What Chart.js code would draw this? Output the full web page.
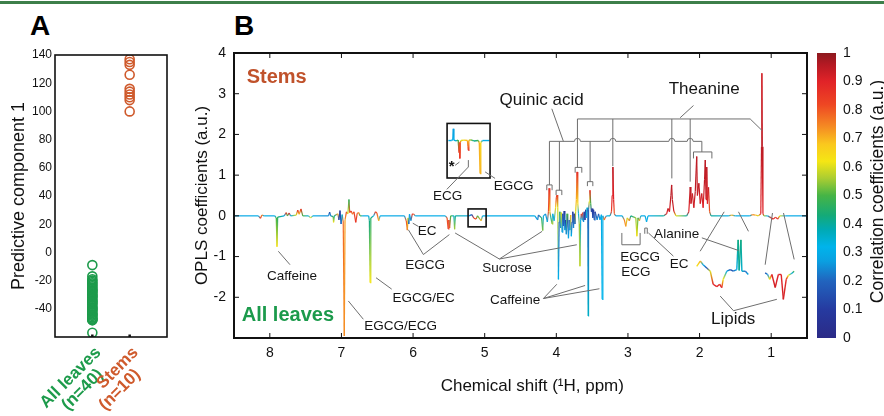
<!DOCTYPE html>
<html>
<head>
<meta charset="utf-8">
<script src="https://cdn.jsdelivr.net/npm/chart.js@4.4.1/dist/chart.umd.min.js"></script>
<style>
body { margin: 0; background: #fff; width: 884px; height: 416px; overflow: hidden; position: relative; }
.rule { position: absolute; left: 0; top: 1px; width: 884px; height: 3px; background: #3d7f4a; }
.tag { position: absolute; font: bold 28px/28px "Liberation Sans", Arial, sans-serif; color: #000; }
canvas { position: absolute; top: 0; }
</style>
</head>
<body>
<div class="rule"></div>
<div class="tag" style="left:30px;top:12px">A</div>
<div class="tag" style="left:234px;top:12px">B</div>
<canvas id="chartA" width="180" height="416" style="left:0"></canvas>
<canvas id="chartB" width="640" height="416" style="left:180px"></canvas>
<canvas id="chartC" width="76" height="416" style="left:808px"></canvas>
<script>
// ---- panel A: scores
var groupLabels = [['All leaves', '(n=40)   '], ['Stems', '(n=10)   ']];
var leavesScores = [-9, -17, -19, -20, -21, -22, -23, -24, -25, -26, -27, -27, -28, -29, -30, -31, -31, -32, -33, -34,
                    -35, -35, -36, -37, -38, -39, -40, -40, -41, -42, -43, -44, -44, -45, -46, -47, -47, -48, -48, -57];
var stemsScores = [137, 135, 133, 126, 116, 114, 112, 110, 108, 100];

// ---- panel B: OPLS loadings (ppm, coefficient, correlation)
var shiftPpm = [
  8.50,8.16,8.13,8.11,8.08,7.93,7.91,7.90,7.89,7.80,
  7.77,7.755,7.73,7.71,7.63,7.61,7.59,7.565,7.54,7.46,
  7.43,7.40,7.18,7.165,7.15,7.115,7.11,7.10,7.05,7.035,
  7.02,7.005,6.99,6.975,6.96,6.95,6.93,6.91,6.895,6.885,
  6.865,6.845,6.825,6.80,6.78,6.76,6.74,6.70,6.62,6.61,
  6.60,6.59,6.55,6.525,6.505,6.48,6.46,6.12,6.095,6.08,
  6.07,6.06,6.05,6.03,6.01,5.99,5.97,5.55,5.525,5.51,
  5.50,5.49,5.475,5.43,5.42,5.41,5.22,5.18,5.15,5.12,
  5.10,5.05,5.03,4.30,4.26,4.25,4.205,4.19,4.18,4.15,
  4.125,4.11,4.10,4.09,4.075,4.06,4.05,4.03,4.01,4.00,
  3.99,3.98,3.97,3.96,3.95,3.94,3.93,3.92,3.91,3.90,
  3.89,3.88,3.87,3.86,3.85,3.84,3.83,3.82,3.81,3.80,
  3.79,3.78,3.77,3.76,3.75,3.74,3.73,3.72,3.71,3.70,
  3.69,3.68,3.67,3.66,3.65,3.64,3.63,3.62,3.61,3.60,
  3.59,3.58,3.57,3.56,3.555,3.55,3.54,3.53,3.52,3.51,
  3.50,3.49,3.48,3.47,3.46,3.45,3.43,3.41,3.39,3.37,
  3.36,3.35,3.33,3.32,3.30,3.25,3.23,3.22,3.21,3.20,
  3.19,3.17,3.08,3.05,3.03,3.01,2.98,2.96,2.89,2.875,
  2.86,2.84,2.82,2.76,2.74,2.72,2.50,2.46,2.44,2.42,
  2.40,2.39,2.38,2.36,2.33,2.18,2.15,2.13,2.12,2.10,
  2.08,2.06,2.04,2.03,2.01,1.99,1.97,1.95,1.93,1.92,
  1.91,1.90,1.89,1.875,1.86,1.84,1.60,1.55,1.50,1.30,
  1.26,1.22,1.18,1.145,1.135,1.13,1.125,1.115,1.10,1.05,
  1.00,0.97,0.94,0.91,0.88,0.80,0.50
];
var oplsCoef = [
  0,0,-0.06,0.02,0,0,-0.05,-0.76,-0.03,0,
  0.08,0,0.07,0,0.02,0.14,0.04,0.17,0,0,
  -0.05,0,0,0.09,0,-0.02,-0.16,0,0.05,-0.1,
  0.13,-0.2,0.03,-0.15,-2.95,-0.1,0.1,0.05,0.4,0.08,
  0.12,0.04,0.1,-0.16,0.06,0.08,0,0,0,-0.12,
  -1.64,-0.05,0,0.1,0.07,-0.12,0,0,-0.12,-0.35,
  -0.05,-0.2,0.04,-0.12,0.05,0.04,0,0,-0.05,-0.32,
  -0.1,-0.3,0,0,-0.33,0,0,0.03,-0.06,-0.08,
  0,-0.12,0,0,-0.1,0.02,-0.05,-0.36,0,0.05,
  -0.15,0.1,0.68,0.1,-0.05,-0.2,0.05,-0.12,0.2,0.45,
  0.51,0.2,-1.56,-0.15,0.1,-0.3,0.08,-0.4,0.05,-0.25,
  0.12,-0.35,-0.1,-0.45,0.05,-0.2,-0.55,-0.1,-0.35,0.02,
  -0.5,-0.15,0.1,-0.3,0.05,-0.2,0.1,0.4,1.08,0.3,
  0.05,-0.2,-1.24,-0.1,0.05,-0.1,0.08,-0.15,0.1,-0.1,
  0.15,-0.05,0.2,0.1,-2.46,0.15,0.35,0.63,0.3,0.1,
  0.18,-0.05,0.15,-0.1,0.1,0.05,-0.1,0.05,-0.1,0.03,
  -2.05,0,-0.1,-0.05,0,0,0.1,0.5,1.2,0.4,
  0.05,0,0,-0.1,-0.26,-0.05,-0.12,0,-0.05,-0.5,
  -0.05,-0.12,0,0,-0.15,0,0,0.05,0.18,0.1,
  0.5,0.76,0.4,0.12,0,0,0.1,0.71,0.3,0.55,
  0.2,0.6,1.46,0.5,0.8,0.3,0.55,0.2,0.9,1.37,
  0.4,1.2,0.3,0.7,0.1,0,0,0.02,0,0,
  0.03,0.02,0,0.05,1.7,3.5,1.7,0.05,0,0,
  -0.05,-0.08,-0.03,-0.08,0,0,0
];
var oplsCorr = [
  0.28,0.3,0.85,0.75,0.3,0.3,0.5,0.63,0.45,0.3,
  0.85,0.5,0.88,0.3,0.6,0.88,0.7,0.86,0.5,0.3,
  0.62,0.3,0.25,0.15,0.25,0.5,0.63,0.4,0.72,0.15,
  0.1,0.2,0.35,0.78,0.74,0.72,0.85,0.6,0.47,0.8,
  0.86,0.75,0.82,0.86,0.8,0.75,0.5,0.3,0.3,0.42,
  0.62,0.45,0.3,0.85,0.8,0.7,0.3,0.28,0.8,0.75,
  0.6,0.2,0.3,0.25,0.85,0.8,0.3,0.3,0.8,0.83,
  0.85,0.8,0.5,0.35,0.56,0.4,0.3,0.15,0.85,0.8,
  0.5,0.7,0.3,0.3,0.25,0.2,0.45,0.53,0.3,0.25,
  0.3,0.8,0.88,0.7,0.4,0.56,0.3,0.3,0.65,0.85,
  0.85,0.6,0.31,0.2,0.45,0.25,0.6,0.28,0.15,0.2,
  0.08,0.3,0.1,0.25,0.5,0.15,0.3,0.2,0.28,0.7,
  0.32,0.15,0.1,0.25,0.05,0.2,0.6,0.7,0.88,0.65,
  0.3,0.55,0.58,0.3,0.85,0.3,0.85,0.25,0.15,0.1,
  0.1,0.3,0.35,0.2,0.36,0.2,0.6,0.88,0.5,0.15,
  0.08,0.15,0.1,0.2,0.1,0.15,0.25,0.15,0.3,0.3,
  0.32,0.3,0.75,0.8,0.3,0.35,0.85,0.9,0.95,0.9,
  0.8,0.3,0.3,0.75,0.73,0.6,0.75,0.4,0.55,0.63,
  0.5,0.72,0.3,0.3,0.3,0.3,0.4,0.9,0.93,0.92,
  0.95,0.95,0.95,0.92,0.6,0.4,0.9,0.95,0.93,0.93,
  0.92,0.95,0.95,0.93,0.95,0.92,0.93,0.9,0.95,0.95,
  0.93,0.95,0.9,0.93,0.8,0.4,0.3,0.7,0.3,0.3,
  0.75,0.7,0.6,0.9,0.95,0.92,0.95,0.9,0.55,0.3,
  0.85,0.9,0.85,0.9,0.6,0.3,0.28
];

// magnified traces as they sit on the plot (sugar region 5.2-5.0, lipid regions)
var sugarPpm  = [5.507,5.46,5.445,5.437,5.43,5.40,5.37,5.357,5.352,5.347,5.342,5.33,5.29,5.24,5.232,5.228,5.222,5.20,5.15,5.09,5.075,5.064,5.055,5.03,4.934];
var sugarCoef = [1.85,1.85,1.88,2.14,1.86,1.84,1.86,1.55,1.80,1.41,1.80,1.85,1.86,1.85,1.70,1.61,1.85,1.87,1.84,1.85,1.80,1.04,1.80,1.85,1.85];
var sugarCorr = [0.3,0.3,0.3,0.27,0.3,0.35,0.5,0.85,0.8,0.86,0.8,0.6,0.65,0.7,0.8,0.85,0.7,0.55,0.4,0.5,0.7,0.7,0.65,0.3,0.3];
var lipidAPpm  = [2.04,1.99,1.95,1.90,1.85,1.81,1.76,1.72,1.69,1.67,1.62,1.57,1.53,1.48,1.461,1.447,1.423,1.409,1.36,1.32];
var lipidACoef = [-1.24,-1.11,-1.20,-1.28,-1.36,-1.68,-1.74,-1.68,-1.76,-1.56,-1.36,-1.32,-1.36,-1.32,-0.59,-1.34,-0.59,-1.36,-1.36,-1.44];
var lipidACorr = [0.62,0.7,0.3,0.15,0.6,0.9,0.9,0.88,0.9,0.62,0.3,0.15,0.2,0.3,0.42,0.4,0.42,0.35,0.2,0.3];
var lipidBPpm  = [1.084,1.05,1.02,0.99,0.944,0.90,0.86,0.83,0.79,0.76,0.71,0.68];
var lipidBCoef = [-1.40,-1.44,-1.56,-1.44,-1.76,-1.44,-1.44,-2.05,-1.56,-1.46,-1.41,-1.36];
var lipidBCorr = [0.15,0.25,0.62,0.9,0.92,0.9,0.9,0.92,0.88,0.62,0.3,0.5];

var shiftTicks = [8, 7, 6, 5, 4, 3, 2, 1];

// jet-like colour scale of the colour bar
var cmap = [
  [0.00, [43, 42, 134]], [0.10, [38, 58, 160]], [0.20, [33, 100, 190]], [0.27, [10, 160, 225]],
  [0.32, [0, 180, 235]], [0.38, [0, 170, 180]], [0.43, [20, 170, 120]], [0.50, [70, 180, 70]],
  [0.56, [170, 205, 50]], [0.62, [245, 230, 20]], [0.68, [250, 200, 30]], [0.74, [245, 140, 35]],
  [0.82, [238, 70, 35]], [0.90, [225, 35, 40]], [0.96, [180, 25, 35]], [1.00, [140, 25, 30]]
];
function jet(v) {
  v = Math.max(0, Math.min(1, v));
  for (var i = 1; i < cmap.length; i++) {
    if (v <= cmap[i][0]) {
      var a = cmap[i - 1], b = cmap[i], t = (v - a[0]) / (b[0] - a[0]);
      var c = a[1].map(function (k, j) { return Math.round(k + (b[1][j] - k) * t); });
      return 'rgb(' + c.join(',') + ')';
    }
  }
  return 'rgb(140,25,30)';
}

Chart.defaults.font.family = '"Liberation Sans", Arial, sans-serif';
Chart.defaults.color = '#111';
Chart.defaults.animation = false;

var GREEN = '#1d9b4b', ORANGE = '#cf5a2c';

// box round the plot area and inward tick marks
var frame = {
  id: 'frame',
  afterDraw: function (chart, args, o) {
    var ctx = chart.ctx, a = chart.chartArea, s = chart.scales;
    ctx.save();
    ctx.strokeStyle = '#111';
    ctx.lineWidth = o.width;
    ctx.strokeRect(a.left, a.top, a.right - a.left, a.bottom - a.top);
    ctx.lineWidth = o.tickWidth;
    ctx.beginPath();
    if (o.xTicks) s.x.ticks.forEach(function (t) {
      var p = s.x.getPixelForValue(t.value);
      ctx.moveTo(p, a.bottom); ctx.lineTo(p, a.bottom - o.len);
      if (o.top) { ctx.moveTo(p, a.top); ctx.lineTo(p, a.top + o.len); }
    });
    if (o.yTicks) s.y.ticks.forEach(function (t) {
      var p = s.y.getPixelForValue(t.value);
      ctx.moveTo(a.left, p); ctx.lineTo(a.left + o.len, p);
      ctx.moveTo(a.right, p); ctx.lineTo(a.right - o.len, p);
    });
    ctx.stroke();
    ctx.restore();
  }
};

// ---------------- chart A
new Chart(document.getElementById('chartA'), {
  type: 'scatter',
  data: {
    datasets: [
      { data: leavesScores.map(function (v) { return { x: 1, y: v }; }), borderColor: GREEN },
      { data: stemsScores.map(function (v) { return { x: 2, y: v }; }), borderColor: ORANGE }
    ]
  },
  options: {
    responsive: false,
    devicePixelRatio: 1,
    layout: { padding: { top: 55, right: 13, left: 0, bottom: 0 } },
    elements: { point: { radius: 4.5, borderWidth: 1.6, backgroundColor: 'rgba(0,0,0,0)' } },
    plugins: { legend: { display: false }, tooltip: { enabled: false },
      frame: { width: 1.6, tickWidth: 2.5, len: 2.5, xTicks: true } },
    scales: {
      x: {
        type: 'linear', min: 0, max: 3,
        grid: { display: false, drawTicks: false }, border: { display: false },
        afterBuildTicks: function (s) { s.ticks = [{ value: 1 }, { value: 2 }]; },
        afterFit: function (s) { s.height = 79; },
        ticks: {
          minRotation: 45, maxRotation: 45, padding: 7, labelOffset: 6,
          font: { size: 17, weight: 'bold', lineHeight: 1.0 },
          color: function (c) { return c.tick && c.tick.value === 1 ? GREEN : ORANGE; },
          callback: function (v) { return groupLabels[v - 1]; }
        }
      },
      y: {
        min: -60, max: 140,
        grid: { display: false, drawTicks: false }, border: { display: false },
        afterFit: function (s) { s.width = 55; },
        ticks: { stepSize: 20, padding: 3, font: { size: 12 },
          callback: function (v) { return v === -60 ? '' : v; } },
        title: { display: true, text: 'Predictive component 1', font: { size: 18 }, padding: { top: 8, bottom: 0 } }
      }
    }
  },
  plugins: [frame]
});

// ---------------- chart B
function segColor(corr) {
  return function (c) {
    var g = c.chart.ctx.createLinearGradient(c.p0.x, c.p0.y, c.p1.x, c.p1.y + 0.01);
    g.addColorStop(0, jet(corr[c.p0DataIndex]));
    g.addColorStop(1, jet(corr[c.p1DataIndex]));
    return g;
  };
}
function trace(ppm, coef, corr, w) {
  return {
    data: ppm.map(function (x, i) { return { x: x, y: coef[i] }; }),
    borderWidth: w, pointRadius: 0, tension: 0, fill: false,
    borderColor: '#49b',
    segment: { borderColor: segColor(corr) }
  };
}

var insetBoxes = [[5.525, 4.925, 2.27, 0.93], [5.232, 4.980, 0.17, -0.27]];
var leaders = [
  [[7.881, -0.87], [7.718, -1.20]],
  [[6.517, -1.52], [6.298, -1.80]],
  [[6.904, -2.09], [6.694, -2.54]],
  [[6.004, -0.18], [5.926, -0.26]],
  [[6.066, -0.34], [5.856, -0.95], [5.493, -0.46]],
  [[5.413, -0.42], [4.795, -1.06], [4.198, -0.38]],
  [[4.795, -1.06], [3.714, -0.71]],
  [[4.180, -2.03], [3.993, -1.68]],
  [[4.180, -2.03], [3.598, -1.71]],
  [[4.180, -2.03], [3.398, -1.79]],
  [[5.529, 0.65], [5.228, 1.20], [5.228, 1.37]],
  [[5.413, 1.24], [5.353, 1.32]],
  [[4.994, 1.08], [4.855, 0.92]],
  [[2.714, -0.42], [2.365, -0.99]],
  [[1.968, -0.54], [1.457, -0.85]],
  [[1.656, 0.10], [1.992, -0.87]],
  [[1.457, 0.10], [1.317, -0.38]],
  [[0.982, 0.07], [1.084, -1.20]],
  [[0.828, 0.07], [0.679, -1.07]],
  [[1.712, -1.97], [1.526, -2.33], [0.921, -2.05]],
  [[4.063, 2.63], [3.901, 1.83]],
  [[2.085, 2.71], [2.271, 2.41]],
  [[3.705, 2.38], [1.293, 2.38], [1.130, 2.10]],
  [[4.096, 1.83], [4.096, 0.76]],
  [[3.957, 1.83], [3.957, 0.63]],
  [[3.528, 1.83], [3.528, 0.84]],
  [[1.968, 1.83], [1.968, 1.57]],
  [[3.705, 2.38], [3.705, 1.19]],
  [[3.211, 2.38], [3.211, 1.22]],
  [[2.387, 2.38], [2.387, 0.92]],
  [[2.131, 2.38], [2.131, 0.84]]
];
var brackets = [
  [4.133, 4.059, 0.76, 0.63], [4.003, 3.923, 0.63, 0.51], [3.737, 3.644, 1.19, 1.06],
  [3.566, 3.490, 0.84, 0.73], [2.085, 1.828, 1.57, 1.41], [3.085, 2.830, -0.71, -0.42],
  [2.765, 2.730, -0.30, -0.44]
];
var quinicRail = { y: 1.83, from: 4.096, to: 1.968, hops: [3.705, 3.211, 2.387, 2.131] };
var notesText = [
  { t: 'Stems', x: 8.323, y: 3.39, size: 20, bold: true, color: '#c0522b', align: 'left' },
  { t: 'All leaves', x: 8.392, y: -2.45, size: 20, bold: true, color: '#1b9a4b', align: 'left' },
  { t: 'Quinic acid', x: 4.205, y: 2.83, size: 17 },
  { t: 'Theanine', x: 1.936, y: 3.11, size: 17 },
  { t: 'ECG', x: 5.518, y: 0.48 },
  { t: 'EGCG', x: 4.596, y: 0.73 },
  { t: '*', x: 5.460, y: 1.20, size: 15, bold: true },
  { t: 'EC', x: 5.804, y: -0.39 },
  { t: 'EGCG', x: 5.832, y: -1.22 },
  { t: 'Sucrose', x: 4.687, y: -1.29 },
  { t: 'Caffeine', x: 7.690, y: -1.49 },
  { t: 'EGCG/EC', x: 5.853, y: -2.02 },
  { t: 'EGCG/ECG', x: 6.175, y: -2.72 },
  { t: 'Caffeine', x: 4.575, y: -2.07 },
  { t: 'EGCG', x: 2.830, y: -1.02 },
  { t: 'ECG', x: 3.095, y: -1.39, align: 'left' },
  { t: 'EC', x: 2.285, y: -1.20 },
  { t: 'Alanine', x: 2.320, y: -0.46 },
  { t: 'Lipids', x: 1.531, y: -2.55, size: 17 }
];

var notes = {
  id: 'notes',
  afterDatasetsDraw: function (chart) {
    var ctx = chart.ctx, sx = chart.scales.x, sy = chart.scales.y;
    function X(v) { return sx.getPixelForValue(v); }
    function Y(v) { return sy.getPixelForValue(v); }
    ctx.save();
    ctx.strokeStyle = '#111'; ctx.lineWidth = 1.6;
    insetBoxes.forEach(function (b) {
      ctx.strokeRect(X(b[0]), Y(b[2]), X(b[1]) - X(b[0]), Y(b[3]) - Y(b[2]));
    });
    ctx.strokeStyle = '#6e6e6e'; ctx.lineWidth = 1;
    leaders.forEach(function (l) {
      ctx.beginPath();
      l.forEach(function (p, i) { if (i) ctx.lineTo(X(p[0]), Y(p[1])); else ctx.moveTo(X(p[0]), Y(p[1])); });
      ctx.stroke();
    });
    brackets.forEach(function (b) {
      ctx.beginPath();
      ctx.moveTo(X(b[0]), Y(b[3])); ctx.lineTo(X(b[0]), Y(b[2]));
      ctx.lineTo(X(b[1]), Y(b[2])); ctx.lineTo(X(b[1]), Y(b[3]));
      ctx.stroke();
    });
    var ry = Y(quinicRail.y), r = 3;
    ctx.beginPath();
    ctx.moveTo(X(quinicRail.from), ry);
    quinicRail.hops.forEach(function (h) {
      ctx.lineTo(X(h) - r, ry);
      ctx.arc(X(h), ry, r, Math.PI, 0, false);
    });
    ctx.lineTo(X(quinicRail.to), ry);
    ctx.stroke();
    ctx.textBaseline = 'middle';
    notesText.forEach(function (n) {
      ctx.font = (n.bold ? 'bold ' : '') + (n.size || 13.5) + 'px "Liberation Sans", Arial, sans-serif';
      ctx.fillStyle = n.color || '#151515';
      ctx.textAlign = n.align || 'center';
      ctx.fillText(n.t, X(n.x), Y(n.y));
    });
    ctx.restore();
  }
};

new Chart(document.getElementById('chartB'), {
  type: 'line',
  data: {
    datasets: [
      trace(shiftPpm, oplsCoef, oplsCorr, 1.2),
      trace(sugarPpm, sugarCoef, sugarCorr, 1.4),
      trace(lipidAPpm, lipidACoef, lipidACorr, 1.4),
      trace(lipidBPpm, lipidBCoef, lipidBCorr, 1.4)
    ]
  },
  options: {
    responsive: false,
    devicePixelRatio: 1,
    layout: { padding: { top: 53, right: 13, left: 0, bottom: 14 } },
    plugins: { legend: { display: false }, tooltip: { enabled: false },
      frame: { width: 2, tickWidth: 1, len: 5, xTicks: true, yTicks: true, top: true } },
    scales: {
      x: {
        type: 'linear', min: 0.5, max: 8.5, reverse: true,
        grid: { display: false, drawTicks: false }, border: { display: false },
        afterBuildTicks: function (s) { s.ticks = shiftTicks.map(function (v) { return { value: v }; }); },
        afterFit: function (s) { s.height = 64; },
        ticks: { maxRotation: 0, padding: 7, font: { size: 14 } },
        title: { display: true, text: '     Chemical shift (\u00B9H, ppm)', font: { size: 17 }, padding: { top: 0, bottom: 5 } }
      },
      y: {
        min: -3, max: 4,
        grid: { display: false, drawTicks: false }, border: { display: false },
        afterFit: function (s) { s.width = 54; },
        ticks: { stepSize: 1, padding: 8, font: { size: 14 },
          callback: function (v) { return v === -3 ? '' : v; } },
        title: { display: true, text: 'OPLS coefficients (a.u.)', font: { size: 17 }, padding: { top: 12, bottom: 0 } }
      }
    }
  },
  plugins: [notes, frame]
});

// ---------------- colour bar
var barTitle = {
  id: 'barTitle',
  afterDraw: function (chart) {
    var ctx = chart.ctx, a = chart.chartArea;
    ctx.save();
    ctx.translate(70, (a.top + a.bottom) / 2 - 4);
    ctx.rotate(-Math.PI / 2);
    ctx.font = '17.5px "Liberation Sans", Arial, sans-serif';
    ctx.fillStyle = '#111';
    ctx.textAlign = 'center';
    ctx.textBaseline = 'middle';
    ctx.fillText('Correlation coefficients (a.u.)', 0, 0);
    ctx.restore();
  }
};
new Chart(document.getElementById('chartC'), {
  type: 'bar',
  data: {
    labels: [''],
    datasets: [{
      data: [[0, 1]],
      barPercentage: 1, categoryPercentage: 1, borderWidth: 0,
      backgroundColor: function (c) {
        var a = c.chart.chartArea;
        if (!a) return '#888';
        var g = c.chart.ctx.createLinearGradient(0, a.bottom, 0, a.top);
        cmap.forEach(function (s) { g.addColorStop(s[0], 'rgb(' + s[1].join(',') + ')'); });
        return g;
      }
    }]
  },
  options: {
    responsive: false,
    devicePixelRatio: 1,
    layout: { padding: { top: 53, left: 9, right: 0, bottom: 78 } },
    plugins: { legend: { display: false }, tooltip: { enabled: false } },
    scales: {
      x: { display: false },
      y: {
        position: 'right', min: 0, max: 1,
        grid: { display: false, drawTicks: false }, border: { display: false },
        afterFit: function (s) { s.width = 48; },
        ticks: { stepSize: 0.1, padding: 7, font: { size: 14 },
          callback: function (v) { return String(Math.round(v * 10) / 10); } }
      }
    }
  },
  plugins: [barTitle]
});
</script>
</body>
</html>
